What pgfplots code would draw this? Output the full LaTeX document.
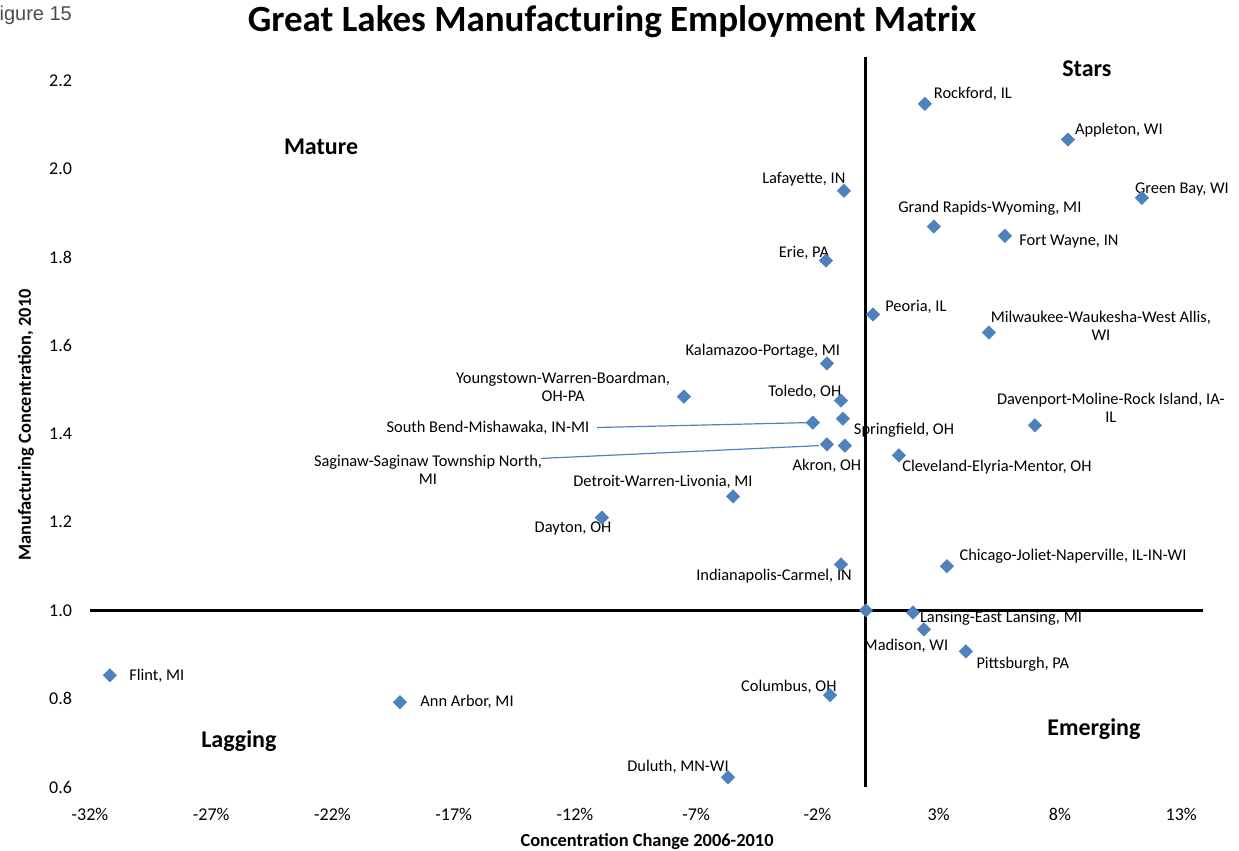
\documentclass[border=0pt]{standalone}
\usepackage{pgfplots}
\pgfplotsset{compat=1.18}
\usepackage{fontspec}
\setmainfont{Carlito}
\newfontfamily\figfont{Liberation Sans}
\definecolor{xlblue}{RGB}{79,129,189}

\begin{document}
\begin{tikzpicture}[
  lab/.style={font=\fontsize{8.2}{9}\selectfont, align=center, inner sep=0pt},
  quad/.style={font=\bfseries\fontsize{12}{14}\selectfont, inner sep=0pt},
]
\begin{axis}[
  scale only axis,
  width=556.5pt, height=365pt,
  xmin=-32, xmax=13.9, ymin=0.6, ymax=2.253,
  axis x line*=bottom, axis y line*=left,
  axis line style={draw=none},
  tick style={draw=none},
  clip=false,
  xtick={-32,-27,-22,-17,-12,-7,-2,3,8,13},
  xticklabels={-32\%,-27\%,-22\%,-17\%,-12\%,-7\%,-2\%,3\%,8\%,13\%},
  ytick={0.6,0.8,1.0,1.2,1.4,1.6,1.8,2.0,2.2},
  /pgf/number format/fixed,
  /pgf/number format/fixed zerofill,
  /pgf/number format/precision=1,
  /pgf/number format/assume math mode=true,
  ticklabel style={font=\fontsize{9}{10}\selectfont},
  xticklabel style={yshift=-7pt},
  yticklabel style={xshift=-5.5pt},
  xlabel={Concentration Change 2006-2010},
  ylabel={Manufacturing Concentration, 2010},
  every axis x label/.style={at={(axis description cs:0.5005,-0.0753)}, anchor=center,
    font=\bfseries\fontsize{9.2}{10}\selectfont},
  every axis y label/.style={at={(axis description cs:-0.0575,0.496)}, anchor=center, rotate=90,
    font=\bfseries\fontsize{9.2}{10}\selectfont},
]
% quadrant dividers
\draw[line width=1.5pt] (axis cs:-32,1) -- (axis cs:13.9,1);
\draw[line width=1.5pt] (axis cs:0,0.6) -- (axis cs:0,2.253);

% leader lines
\draw[xlblue, line width=0.6pt] (axis cs:-11.09,1.414) -- (axis cs:-2.47,1.425);
\draw[xlblue, line width=0.6pt] (axis cs:-13.40,1.344) -- (axis cs:-1.94,1.373);

\addplot[only marks, mark=square*, mark size=2.3pt,
  mark options={rotate=45, fill=xlblue, draw=xlblue}] table {
x y
2.43 2.147
8.33 2.066
11.38 1.934
-0.91 1.950
2.80 1.869
5.73 1.848
-1.65 1.792
0.29 1.670
5.07 1.629
-1.61 1.559
-7.51 1.484
-1.03 1.475
-0.95 1.434
-2.19 1.425
-1.61 1.376
-0.87 1.373
6.97 1.419
1.36 1.351
-5.48 1.258
-10.89 1.210
-1.03 1.104
3.34 1.100
0.00 1.000
1.94 0.995
2.39 0.957
4.12 0.907
-1.48 0.808
-5.69 0.622
-31.18 0.853
-19.22 0.792
};

% point labels
\node[lab] at (axis cs:4.41,2.170) {Rockford, IL};
\node[lab] at (axis cs:10.43,2.088) {Appleton, WI};
\node[lab] at (axis cs:13.03,1.952) {Green Bay, WI};
\node[lab] at (axis cs:-2.56,1.977) {Lafayette, IN};
\node[lab] at (axis cs:5.11,1.910) {Grand Rapids-Wyoming, MI};
\node[lab] at (axis cs:8.37,1.835) {Fort Wayne, IN};
\node[lab] at (axis cs:-2.56,1.810) {Erie, PA};
\node[lab] at (axis cs:2.06,1.686) {Peoria, IL};
\node[lab] at (axis cs:9.69,1.645) {Milwaukee-Waukesha-West Allis,\\WI};
\node[lab] at (axis cs:-4.25,1.586) {Kalamazoo-Portage, MI};
\node[lab] at (axis cs:-12.49,1.505) {Youngstown-Warren-Boardman,\\OH-PA};
\node[lab] at (axis cs:-2.52,1.495) {Toledo, OH};
\node[lab] at (axis cs:-15.59,1.414) {South Bend-Mishawaka, IN-MI};
\node[lab] at (axis cs:1.57,1.407) {Springfield, OH};
\node[lab] at (axis cs:-18.06,1.319) {Saginaw-Saginaw Township North,\\MI};
\node[lab] at (axis cs:-1.61,1.328) {Akron, OH};
\node[lab] at (axis cs:10.10,1.459) {Davenport-Moline-Rock Island, IA-\\IL};
\node[lab] at (axis cs:5.40,1.324) {Cleveland-Elyria-Mentor, OH};
\node[lab] at (axis cs:-8.37,1.290) {Detroit-Warren-Livonia, MI};
\node[lab] at (axis cs:-12.08,1.186) {Dayton, OH};
\node[lab] at (axis cs:-3.79,1.077) {Indianapolis-Carmel, IN};
\node[lab] at (axis cs:8.54,1.122) {Chicago-Joliet-Naperville, IL-IN-WI};
\node[lab] at (axis cs:5.57,0.982) {Lansing-East Lansing, MI};
\node[lab] at (axis cs:1.65,0.919) {Madison, WI};
\node[lab] at (axis cs:6.47,0.878) {Pittsburgh, PA};
\node[lab] at (axis cs:-3.18,0.826) {Columbus, OH};
\node[lab] at (axis cs:-7.75,0.645) {Duluth, MN-WI};
\node[lab] at (axis cs:-29.24,0.851) {Flint, MI};
\node[lab] at (axis cs:-16.45,0.792) {Ann Arbor, MI};

% quadrant names
\node[quad] at (axis cs:9.11,2.226) {Stars};
\node[quad] at (axis cs:-22.47,2.050) {Mature};
\node[quad] at (axis cs:-25.86,0.704) {Lagging};
\node[quad] at (axis cs:9.40,0.731) {Emerging};
\end{axis}

\node[font=\bfseries\fontsize{18.5}{22}\selectfont, inner sep=0pt] at (261pt,382.5pt)
  {Great Lakes Manufacturing Employment Matrix};
\node[font=\figfont\fontsize{10}{12}\selectfont, text=black!70, anchor=west, inner sep=0pt]
  at (-51.5pt,386pt) {Figure 15};

\pgfresetboundingbox
\useasboundingbox (-45pt,-32pt) rectangle (574.5pt,393.5pt);
\end{tikzpicture}
\end{document}
